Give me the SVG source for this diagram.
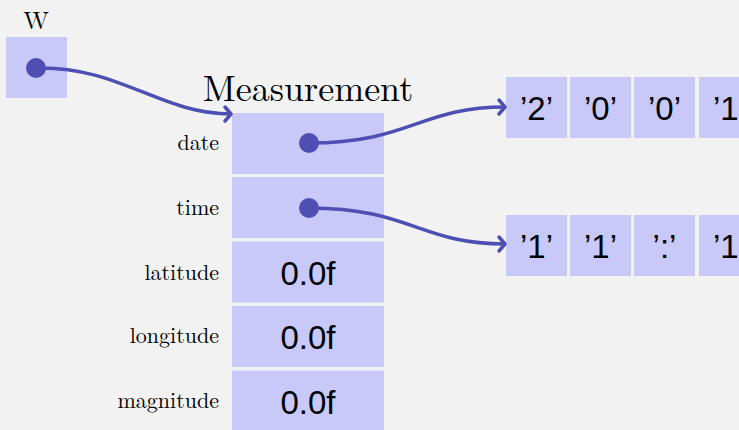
<svg xmlns="http://www.w3.org/2000/svg" width="739" height="430" viewBox="0 0 739 430">
<style>
.box{fill:#c8c8f9}
.dot{fill:#4f4fb3}
.serif{font-family:"Latin Modern Roman","Liberation Serif","DejaVu Serif",serif;fill:#000}
.lbl{font-size:22px;text-anchor:end}
.sans{font-family:"Liberation Sans",Arial,sans-serif;fill:#000;text-anchor:middle;font-size:33px}
.conn{fill:none;stroke:#4f4fb3;stroke-width:3.5;marker-end:url(#arr)}
</style>
<defs>
<marker id="arr" markerUnits="userSpaceOnUse" markerWidth="20" markerHeight="20" viewBox="-10 -10 20 20" refX="0" refY="0" orient="auto">
<path d="M-6,-7 L0,0 L-6,7" fill="none" stroke="#4f4fb3" stroke-width="3.5" stroke-linecap="round" stroke-linejoin="round"/>
</marker>
</defs>
<rect width="739" height="430" fill="#f2f2f2"/>
<g id="w">
<text class="serif" x="36" y="29" font-size="25" text-anchor="middle">W</text>
<rect class="box" x="6" y="37" width="61" height="61"/>
<circle class="dot" cx="36" cy="68" r="10"/>
</g>
<g id="measurement">
<text class="serif" x="308" y="101" font-size="36" text-anchor="middle">Measurement</text>
<rect class="box" x="232" y="113" width="152" height="61"/>
<rect class="box" x="232" y="177" width="152" height="61"/>
<rect class="box" x="232" y="241.5" width="152" height="61"/>
<rect class="box" x="232" y="306" width="152" height="61"/>
<rect class="box" x="232" y="370.5" width="152" height="61"/>
<text class="serif lbl" x="219" y="150">date</text>
<text class="serif lbl" x="219" y="215">time</text>
<text class="serif lbl" x="219" y="280">latitude</text>
<text class="serif lbl" x="219" y="343">longitude</text>
<text class="serif lbl" x="219" y="408">magnitude</text>
<circle class="dot" cx="309" cy="143" r="10"/>
<circle class="dot" cx="309" cy="208" r="10"/>
<text class="sans" x="308" y="285" font-size="34">0.0f</text>
<text class="sans" x="308" y="349" font-size="34">0.0f</text>
<text class="sans" x="308" y="414" font-size="34">0.0f</text>
</g>
<g id="date-array">
<rect class="box" x="506" y="77" width="61" height="61"/>
<rect class="box" x="570" y="77" width="61" height="61"/>
<rect class="box" x="634" y="77" width="61" height="61"/>
<rect class="box" x="699" y="77" width="61" height="61"/>
<text class="sans" x="536.5" y="120">’2’</text>
<text class="sans" x="600.5" y="120">’0’</text>
<text class="sans" x="664.5" y="120">’0’</text>
<text class="sans" x="729.5" y="120">’1’</text>
</g>
<g id="time-array">
<rect class="box" x="506" y="215" width="61" height="61"/>
<rect class="box" x="570" y="215" width="61" height="61"/>
<rect class="box" x="634" y="215" width="61" height="61"/>
<rect class="box" x="699" y="215" width="61" height="61"/>
<text class="sans" x="536.5" y="258">’1’</text>
<text class="sans" x="600.5" y="258">’1’</text>
<text class="sans" x="664.5" y="258">’:’</text>
<text class="sans" x="729.5" y="258">’1’</text>
</g>
<g id="connectors">
<path class="conn" d="M36,68 C120,66 160,114 231,114"/>
<path class="conn" d="M309,143 C410,143 420,107 505,107"/>
<path class="conn" d="M309,208 C410,208 420,244 505,244"/>
</g>
</svg>
